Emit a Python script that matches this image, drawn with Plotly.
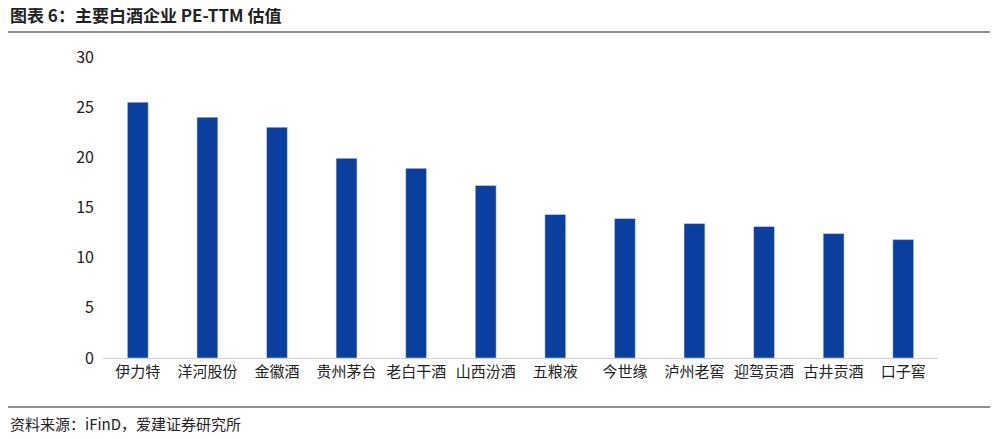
import plotly.graph_objects as go

categories = ["伊力特","洋河股份","金徽酒","贵州茅台","老白干酒","山西汾酒","五粮液","今世缘","泸州老窖","迎驾贡酒","古井贡酒","口子窖"]
pe_ttm = [25.5,24.0,23.0,19.9,18.9,17.2,14.3,13.9,13.4,13.1,12.4,11.8]
y_ticks = [0,5,10,15,20,25,30]

font = "Noto Sans CJK SC"
fig = go.Figure(go.Bar(x=categories, y=pe_ttm, marker_color="#0a3fa0", width=0.3))
fig.update_layout(
    width=998, height=439, plot_bgcolor="white", paper_bgcolor="white",
    margin=dict(l=95, r=68, t=49, b=89), showlegend=False,
    font=dict(family=font, size=15, color="#222"),
    xaxis=dict(showline=True, linecolor="#d0d0d0", ticks="", tickfont=dict(size=15)),
    yaxis=dict(range=[0,30], tickvals=y_ticks, showgrid=False, zeroline=False, tickfont=dict(size=16), ticklabelstandoff=8),
    annotations=[
        dict(text="<b>图表 6：主要白酒企业 PE-TTM 估值</b>", xref="paper", yref="paper", x=-95/835, y=1+42/301, xanchor="left", yanchor="middle", showarrow=False, font=dict(size=17, color="#222")),
        dict(text="资料来源：iFinD，爱建证券研究所", xref="paper", yref="paper", x=-95/835, y=-66/301, xanchor="left", yanchor="middle", showarrow=False, font=dict(size=15, color="#222")),
    ],
    shapes=[
        dict(type="line", xref="paper", yref="paper", x0=-95/835, x1=1+68/835, y0=1+25/301, y1=1+25/301, line=dict(color="#222", width=1.2)),
        dict(type="line", xref="paper", yref="paper", x0=-95/835, x1=1+68/835, y0=-49/301, y1=-49/301, line=dict(color="#222", width=1.2)),
    ],
)
fig.write_html("out.html")
